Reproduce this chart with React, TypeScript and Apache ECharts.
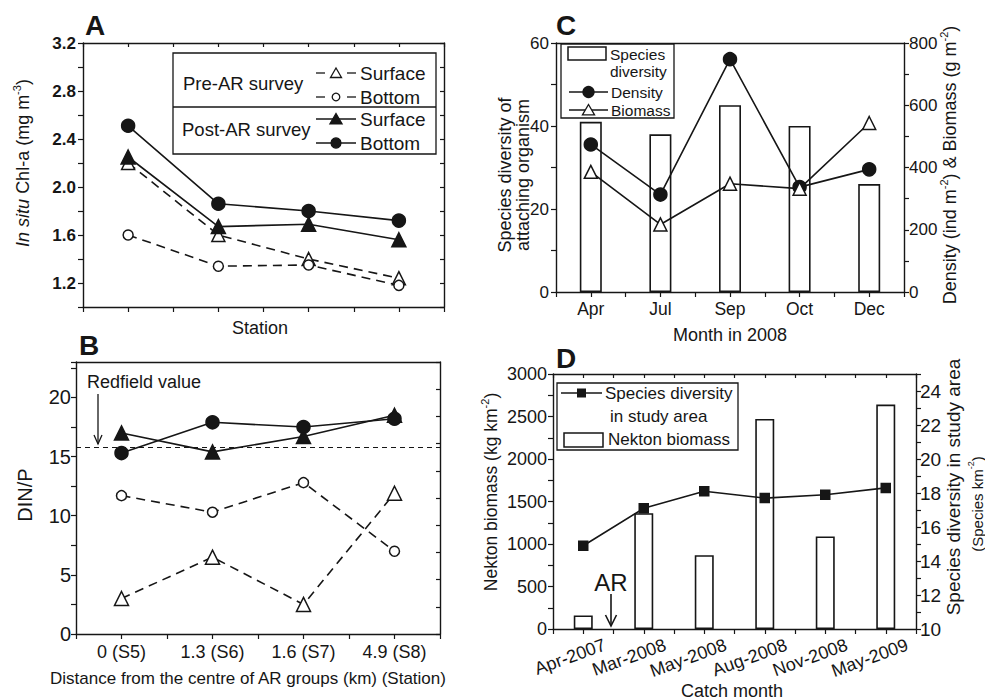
import React, { useEffect, useRef } from 'react';
import * as echarts from 'echarts';

const FF = "'Liberation Sans', Arial, Helvetica, sans-serif";
const INK = '#161616';

// ---------- Panel A: in situ Chl-a ----------
const chlPreSurface = [2.2, 1.6, 1.4, 1.24];
const chlPreBottom = [1.6, 1.34, 1.35, 1.18];
const chlPostSurface = [2.25, 1.67, 1.69, 1.56];
const chlPostBottom = [2.51, 1.86, 1.8, 1.72];

// ---------- Panel B: DIN/P ----------
const stationLabels = ['0 (S5)', '1.3 (S6)', '1.6 (S7)', '4.9 (S8)'];
const dinPreSurface = [3.0, 6.5, 2.5, 11.9];
const dinPreBottom = [11.7, 10.3, 12.8, 7.0];
const dinPostSurface = [17.0, 15.4, 16.7, 18.5];
const dinPostBottom = [15.3, 17.9, 17.5, 18.2];
const redfieldValue = 15.8;

// ---------- Panel C: attaching organism ----------
const monthsC = ['Apr', 'Jul', 'Sep', 'Oct', 'Dec'];
const speciesC = [41, 38, 45, 40, 26];
const densityC = [474, 313, 748, 337, 394];
const biomassC = [386, 217, 348, 332, 543];

// ---------- Panel D: nekton ----------
const monthsD = ['Apr-2007', 'Mar-2008', 'May-2008', 'Aug-2008', 'Nov-2008', 'May-2009'];
const nektonD = [160, 1363, 869, 2471, 1089, 2640];
const diversityD = [14.9, 17.1, 18.1, 17.7, 17.9, 18.3];

const pts = (vals: number[]) => vals.map((v, i) => [i + 0.5, v]);
const catLabel = (cats: string[]) => (v: number) => {
  const i = v - 0.5;
  return Number.isInteger(i) && i >= 0 && i < cats.length ? cats[i] : '';
};
const every = (step: number, base: number, fmt: (v: number) => string) => (v: number) => {
  const k = (v - base) / step;
  return Math.abs(k - Math.round(k)) < 1e-6 ? fmt(v) : '';
};

const axLine = { show: true, onZero: false, lineStyle: { color: INK, width: 1.4 } };
const tickOut = { show: true, inside: false, length: 5, lineStyle: { color: INK, width: 1.2 } };
const tickIn = { show: true, inside: true, length: 4, lineStyle: { color: INK, width: 1.2 } };
const noTick = { show: false };
const noLabel = { show: false };
const noSplit = { show: false };

const lab = (size: number, extra: any = {}) => ({
  show: true,
  color: INK,
  fontFamily: FF,
  fontSize: size,
  ...extra,
});

function lineSeries(
  xi: number,
  yi: number,
  data: number[][],
  symbol: string,
  size: number,
  filled: boolean,
  dashed: boolean,
  extra: any = {}
) {
  return {
    type: 'line',
    xAxisIndex: xi,
    yAxisIndex: yi,
    data,
    symbol,
    symbolSize: size,
    showAllSymbol: true,
    silent: true,
    animation: false,
    lineStyle: { color: INK, width: 1.6, type: dashed ? [9, 6] : 'solid' },
    itemStyle: { color: filled ? INK : '#fff', borderColor: INK, borderWidth: 1.5 },
    emphasis: { disabled: true },
    z: 3,
    ...extra,
  };
}

function barSeries(xi: number, yi: number, data: number[][], w: number) {
  return {
    type: 'bar',
    xAxisIndex: xi,
    yAxisIndex: yi,
    data,
    barWidth: w,
    silent: true,
    animation: false,
    itemStyle: { color: '#fff', borderColor: INK, borderWidth: 1.6 },
    emphasis: { disabled: true },
    z: 2,
  };
}

// graphic helpers
const txt = (text: string, x: number, y: number, size: number, extra: any = {}) => ({
  type: 'text',
  x,
  y,
  z: 100,
  silent: true,
  style: { text, fontFamily: FF, fontSize: size, fill: INK, align: 'left', verticalAlign: 'middle', ...extra },
});
const vtxt = (text: string, x: number, y: number, size: number, rich: any = undefined, extra: any = {}) => {
  const style: any = {
    text,
    fontFamily: FF,
    fontSize: size,
    fill: INK,
    align: 'center',
    verticalAlign: 'middle',
    lineHeight: size + 2,
    ...extra,
  };
  if (rich) style.rich = rich;
  return { type: 'text', x, y, z: 100, rotation: Math.PI / 2, silent: true, style };
};
const seg = (x1: number, y1: number, x2: number, y2: number, w = 1.3, dash: any = null) => ({
  type: 'line',
  z: 100,
  silent: true,
  shape: { x1, y1, x2, y2 },
  style: { stroke: INK, lineWidth: w, lineDash: dash },
});
const box = (x: number, y: number, w: number, h: number, lw = 1.3) => ({
  type: 'rect',
  z: 99,
  silent: true,
  shape: { x, y, width: w, height: h },
  style: { fill: '#fff', stroke: INK, lineWidth: lw },
});
const tri = (cx: number, cy: number, s: number, filled: boolean) => ({
  type: 'polygon',
  z: 101,
  silent: true,
  shape: {
    points: [
      [cx, cy - s * 0.5],
      [cx + s * 0.55, cy + s * 0.45],
      [cx - s * 0.55, cy + s * 0.45],
    ],
  },
  style: { fill: filled ? INK : '#fff', stroke: INK, lineWidth: 1.3 },
});
const dot = (cx: number, cy: number, r: number, filled: boolean) => ({
  type: 'circle',
  z: 101,
  silent: true,
  shape: { cx, cy, r },
  style: { fill: filled ? INK : '#fff', stroke: INK, lineWidth: 1.3 },
});

const supRich = (size: number) => ({
  n: { fontFamily: FF, fontSize: size, fill: INK, lineHeight: size + 6, verticalAlign: 'middle' },
  i: { fontFamily: FF, fontSize: size, fill: INK, fontStyle: 'italic', lineHeight: size + 6, verticalAlign: 'middle' },
  s: { fontFamily: FF, fontSize: Math.round(size * 0.6), fill: INK, lineHeight: 11, verticalAlign: 'top' },
});

export default function App() {
  const ref = useRef<HTMLDivElement>(null);

  useEffect(() => {
    if (!ref.current) return;
    const chart = echarts.init(ref.current, null, { renderer: 'svg' });

    const grid = [
      { left: 83, top: 43, width: 361, height: 264 },
      { left: 76, top: 362, width: 364, height: 272 },
      { left: 556, top: 43, width: 348, height: 249 },
      { left: 553, top: 374, width: 363, height: 255 },
    ].map((g) => ({ ...g, containLabel: false, outerBoundsMode: 'none', show: false }));

    const xAxis = [
      // A
      { type: 'value', gridIndex: 0, position: 'bottom', min: 0, max: 4, interval: 0.5, axisLine: axLine, axisTick: tickOut, axisLabel: noLabel, splitLine: noSplit },
      { type: 'value', gridIndex: 0, position: 'top', min: 0, max: 4, interval: 0.5, axisLine: axLine, axisTick: tickIn, axisLabel: noLabel, splitLine: noSplit },
      // B
      { type: 'value', gridIndex: 1, position: 'bottom', min: 0, max: 4, interval: 0.5, axisLine: axLine, axisTick: tickOut, axisLabel: lab(18, { margin: 9, formatter: catLabel(stationLabels) }), splitLine: noSplit },
      { type: 'value', gridIndex: 1, position: 'top', min: 0, max: 4, interval: 0.5, axisLine: axLine, axisTick: noTick, axisLabel: noLabel, splitLine: noSplit },
      // C
      { type: 'value', gridIndex: 2, position: 'bottom', min: 0, max: 5, interval: 0.5, axisLine: axLine, axisTick: tickOut, axisLabel: lab(17.5, { margin: 8, formatter: catLabel(monthsC) }), splitLine: noSplit },
      { type: 'value', gridIndex: 2, position: 'top', min: 0, max: 5, interval: 0.5, axisLine: axLine, axisTick: noTick, axisLabel: noLabel, splitLine: noSplit },
      // D
      { type: 'value', gridIndex: 3, position: 'bottom', min: 0, max: 6, interval: 0.5, axisLine: axLine, axisTick: tickOut, axisLabel: lab(18, { margin: 23, rotate: 20, align: 'right', padding: [0, -23, 0, 0], formatter: catLabel(monthsD) }), splitLine: noSplit },
      { type: 'value', gridIndex: 3, position: 'top', min: 0, max: 6, interval: 0.5, axisLine: axLine, axisTick: tickIn, axisLabel: noLabel, splitLine: noSplit },
    ];

    const yAxis = [
      // A
      { type: 'value', gridIndex: 0, position: 'left', min: 1.0, max: 3.2, interval: 0.2, axisLine: axLine, axisTick: tickOut, axisLabel: lab(17, { fontWeight: 'bold', margin: 7, formatter: every(0.4, 1.2, (v) => (v > 1.1 ? v.toFixed(1) : '')) }), splitLine: noSplit },
      { type: 'value', gridIndex: 0, position: 'right', min: 1.0, max: 3.2, interval: 0.2, axisLine: axLine, axisTick: tickIn, axisLabel: noLabel, splitLine: noSplit },
      // B
      { type: 'value', gridIndex: 1, position: 'left', min: 0, max: 23, interval: 2.5, axisLine: axLine, axisTick: tickOut, axisLabel: lab(20, { margin: 5, formatter: every(5, 0, (v) => (v <= 20 ? String(Math.round(v)) : '')) }), splitLine: noSplit },
      { type: 'value', gridIndex: 1, position: 'right', min: 0, max: 23, interval: 2.3, axisLine: axLine, axisTick: tickIn, axisLabel: noLabel, splitLine: noSplit },
      // C
      { type: 'value', gridIndex: 2, position: 'left', min: 0, max: 60, interval: 10, axisLine: axLine, axisTick: tickOut, axisLabel: lab(17, { margin: 7, formatter: every(20, 0, (v) => String(v)) }), splitLine: noSplit },
      { type: 'value', gridIndex: 2, position: 'right', min: 0, max: 800, interval: 100, axisLine: axLine, axisTick: tickOut, axisLabel: lab(17, { margin: 5, formatter: every(200, 0, (v) => String(v)) }), splitLine: noSplit },
      // D
      { type: 'value', gridIndex: 3, position: 'left', min: 0, max: 3000, interval: 250, axisLine: axLine, axisTick: tickOut, axisLabel: lab(18, { margin: 6, formatter: every(500, 0, (v) => String(v)) }), splitLine: noSplit },
      { type: 'value', gridIndex: 3, position: 'right', min: 10, max: 25, interval: 1, axisLine: axLine, axisTick: tickOut, axisLabel: lab(19, { margin: 4, formatter: every(2, 10, (v) => (v <= 24 ? String(v) : '')) }), splitLine: noSplit },
    ];

    const series: any[] = [
      // A
      lineSeries(0, 0, pts(chlPreSurface), 'triangle', 13, false, true),
      lineSeries(0, 0, pts(chlPreBottom), 'circle', 10, false, true),
      lineSeries(0, 0, pts(chlPostSurface), 'triangle', 14, true, false),
      lineSeries(0, 0, pts(chlPostBottom), 'circle', 13, true, false),
      // B
      lineSeries(2, 2, pts(dinPreSurface), 'triangle', 14, false, true),
      lineSeries(2, 2, pts(dinPreBottom), 'circle', 10, false, true),
      lineSeries(2, 2, pts(dinPostSurface), 'triangle', 14, true, false, {
        markLine: {
          silent: true,
          symbol: ['none', 'none'],
          label: { show: false },
          lineStyle: { color: INK, type: [5, 4], width: 1.2 },
          data: [{ yAxis: redfieldValue }],
        },
      }),
      lineSeries(2, 2, pts(dinPostBottom), 'circle', 13, true, false),
      // C
      barSeries(4, 4, pts(speciesC), 22),
      lineSeries(4, 5, pts(densityC), 'circle', 13, true, false),
      lineSeries(4, 5, pts(biomassC), 'triangle', 13, false, false),
      // D
      barSeries(6, 6, pts(nektonD), 19),
      lineSeries(6, 7, pts(diversityD), 'rect', 9, true, false),
    ];

    const graphic: any[] = [
      // panel letters
      txt('A', 85, 25, 28, { fontWeight: 'bold' }),
      txt('B', 79, 345, 28, { fontWeight: 'bold' }),
      txt('C', 556, 25, 28, { fontWeight: 'bold' }),
      txt('D', 556, 358, 28, { fontWeight: 'bold' }),

      // A axis titles
      vtxt('{i|In situ}{n| Chl-a (mg m}{s|-3}{n|)}', 23, 163, 18, supRich(18)),
      txt('Station', 260, 328, 18, { align: 'center' }),

      // A legend
      box(173, 53, 263, 101),
      seg(173, 107, 436, 107),
      txt('Pre-AR survey', 183, 83, 18.5),
      txt('Post-AR survey', 182, 129, 18.5),
      seg(316, 73, 325, 73), seg(347, 73, 356, 73), tri(336, 73, 10, false),
      seg(316, 97, 325, 97), seg(347, 97, 356, 97), dot(336, 97, 3.8, false),
      seg(316, 119, 356, 119), tri(336, 119, 11, true),
      seg(316, 143, 356, 143), dot(336, 143, 5, true),
      txt('Surface', 360, 73, 19),
      txt('Bottom', 360, 97, 19),
      txt('Surface', 360, 119, 19),
      txt('Bottom', 360, 143, 19),

      // B titles
      vtxt('DIN/P', 25, 495, 20),
      txt('Distance from the centre of AR groups (km) (Station)', 248, 678, 17, { align: 'center' }),
      txt('Redfield value', 87, 382, 18),
      seg(98, 394, 98, 444, 1.3),
      { type: 'polyline', z: 100, silent: true, shape: { points: [[94, 435], [98, 444], [102, 435]] }, style: { stroke: INK, lineWidth: 1.3, fill: null } },

      // C titles
      vtxt('Species diversity of', 505, 175, 18),
      vtxt('attaching organism', 523, 175, 18),
      vtxt('{n|Density (ind m}{s|-2}{n|) & Biomass (g m}{s|-2}{n|)}', 950, 165, 18, supRich(18)),
      txt('Month in 2008', 730, 335, 18, { align: 'center' }),

      // C legend
      box(561, 44, 113, 74),
      box(568, 47, 38, 13, 1.5),
      txt('Species', 610, 54, 15.5),
      txt('diversity', 610, 71, 15.5),
      seg(569, 92, 608, 92), dot(588.5, 92, 5.5, true),
      txt('Density', 611, 92, 15.5),
      seg(569, 110, 608, 110), tri(588.5, 110, 11, false),
      txt('Biomass', 611, 110, 15.5),

      // D titles
      vtxt('{n|Nekton biomass (kg km}{s|-2}{n|)}', 491, 492, 17.5, supRich(17.5)),
      vtxt('Species diversity in study area', 953, 487, 19),
      vtxt('{n|(Species km}{s|-2}{n|)}', 977, 504, 15, supRich(15)),
      txt('Catch month', 732, 691, 18, { align: 'center' }),

      // D legend
      box(557, 383, 181, 67),
      seg(561, 393, 602, 393),
      { type: 'rect', z: 101, silent: true, shape: { x: 577, y: 388.5, width: 9, height: 9 }, style: { fill: INK } },
      txt('Species diversity', 605, 393, 17),
      txt('in study area', 610, 416, 17),
      box(564, 433, 39, 14, 1.5),
      txt('Nekton biomass', 608, 439, 17),

      // AR arrow
      txt('AR', 611, 582, 24, { align: 'center' }),
      seg(611, 594, 611, 625, 1.6),
      { type: 'polyline', z: 100, silent: true, shape: { points: [[605.5, 615], [611, 626], [616.5, 615]] }, style: { stroke: INK, lineWidth: 1.6, fill: null } },
    ];

    chart.setOption({
      animation: false,
      backgroundColor: '#fff',
      textStyle: { fontFamily: FF },
      grid,
      xAxis,
      yAxis,
      series,
      graphic,
    });

    return () => chart.dispose();
  }, []);

  return (
    <div
      ref={ref}
      style={{ position: 'absolute', left: 0, top: 0, width: 985, height: 700, background: '#fff' }}
    />
  );
}
